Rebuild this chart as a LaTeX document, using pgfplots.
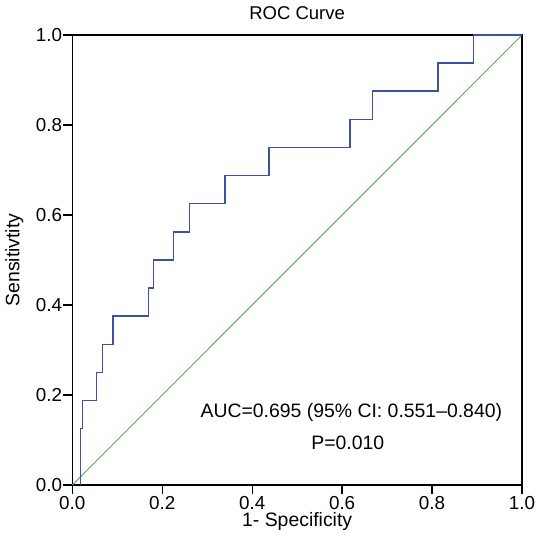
\documentclass[border=0pt]{standalone}
\usepackage{fontspec}
\setmainfont{Liberation Sans}
\usepackage{pgfplots}
\pgfplotsset{compat=1.18}
\definecolor{roc}{RGB}{62,82,160}
\definecolor{ref}{RGB}{84,176,88}
\begin{document}
\fontsize{18.5bp}{22bp}\selectfont
\begin{tikzpicture}
\begin{axis}[
  name=ax,
  width=449.7bp, height=450bp, scale only axis,
  xmin=0, xmax=1, ymin=0, ymax=1,
  xtick={0,0.2,0.4,0.6,0.8,1.0},
  ytick={0,0.2,0.4,0.6,0.8,1.0},
  xticklabels={0.0,0.2,0.4,0.6,0.8,1.0},
  yticklabels={0.0,0.2,0.4,0.6,0.8,1.0},
  xtick pos=bottom, ytick pos=left,
  tick align=outside,
  major tick length=9bp,
  tick style={black, line width=1.3bp},
  axis line style={black, line width=1.3bp},
  /pgf/number format/assume math mode=true,
  tick label style={font=\fontsize{18.8bp}{22bp}\selectfont},
  xticklabel style={inner sep=0bp, anchor=north, yshift=-2bp, text depth=0pt},
  yticklabel style={inner sep=1bp, anchor=east},
  title={ROC Curve},
  title style={at={(rel axis cs:0.5,1)}, anchor=base, yshift=9.5bp, font=\fontsize{18.5bp}{22bp}\selectfont},
  xlabel={1- Specificity},
  xlabel style={at={(rel axis cs:0.5,0)}, anchor=base, inner sep=0pt, text height=13.5bp, yshift=-41.5bp, font=\fontsize{19.4bp}{23bp}\selectfont},
  ylabel={Sensitivtity},
  ylabel style={at={(rel axis cs:0,0.5)}, anchor=base, yshift=53bp, font=\fontsize{19.4bp}{23bp}\selectfont},
  clip=false,
]
\addplot[ref, line width=1bp] coordinates {(0,0) (1,1)};
\addplot[roc, line width=1.5bp] coordinates {
(0.0187,0) (0.0187,0.125) (0.023,0.125) (0.023,0.1875) (0.054,0.1875) (0.054,0.25)
(0.067,0.25) (0.067,0.3125) (0.0905,0.3125) (0.0905,0.375) (0.169,0.375) (0.169,0.4375)
(0.181,0.4375) (0.181,0.5) (0.2246,0.5) (0.2246,0.5625) (0.261,0.5625) (0.261,0.625)
(0.340,0.625) (0.340,0.6875) (0.437,0.6875) (0.437,0.75) (0.618,0.75) (0.618,0.8125)
(0.667,0.8125) (0.667,0.875) (0.813,0.875) (0.813,0.9375) (0.892,0.9375) (0.892,1) (1,1)};
\node[anchor=base, inner sep=0pt, font=\fontsize{19.4bp}{23bp}\selectfont] at (axis cs:0.6206,0.150) {AUC=0.695 (95\% CI: 0.551–0.840)};
\node[anchor=base, inner sep=0pt, font=\fontsize{19.4bp}{23bp}\selectfont] at (axis cs:0.6126,0.0778) {P=0.010};
\end{axis}
\pgfresetboundingbox
\path ([shift={(-72.3bp,-55bp)}]ax.south west) rectangle ([shift={(464.7bp,485bp)}]ax.south west);
\end{tikzpicture}
\end{document}
